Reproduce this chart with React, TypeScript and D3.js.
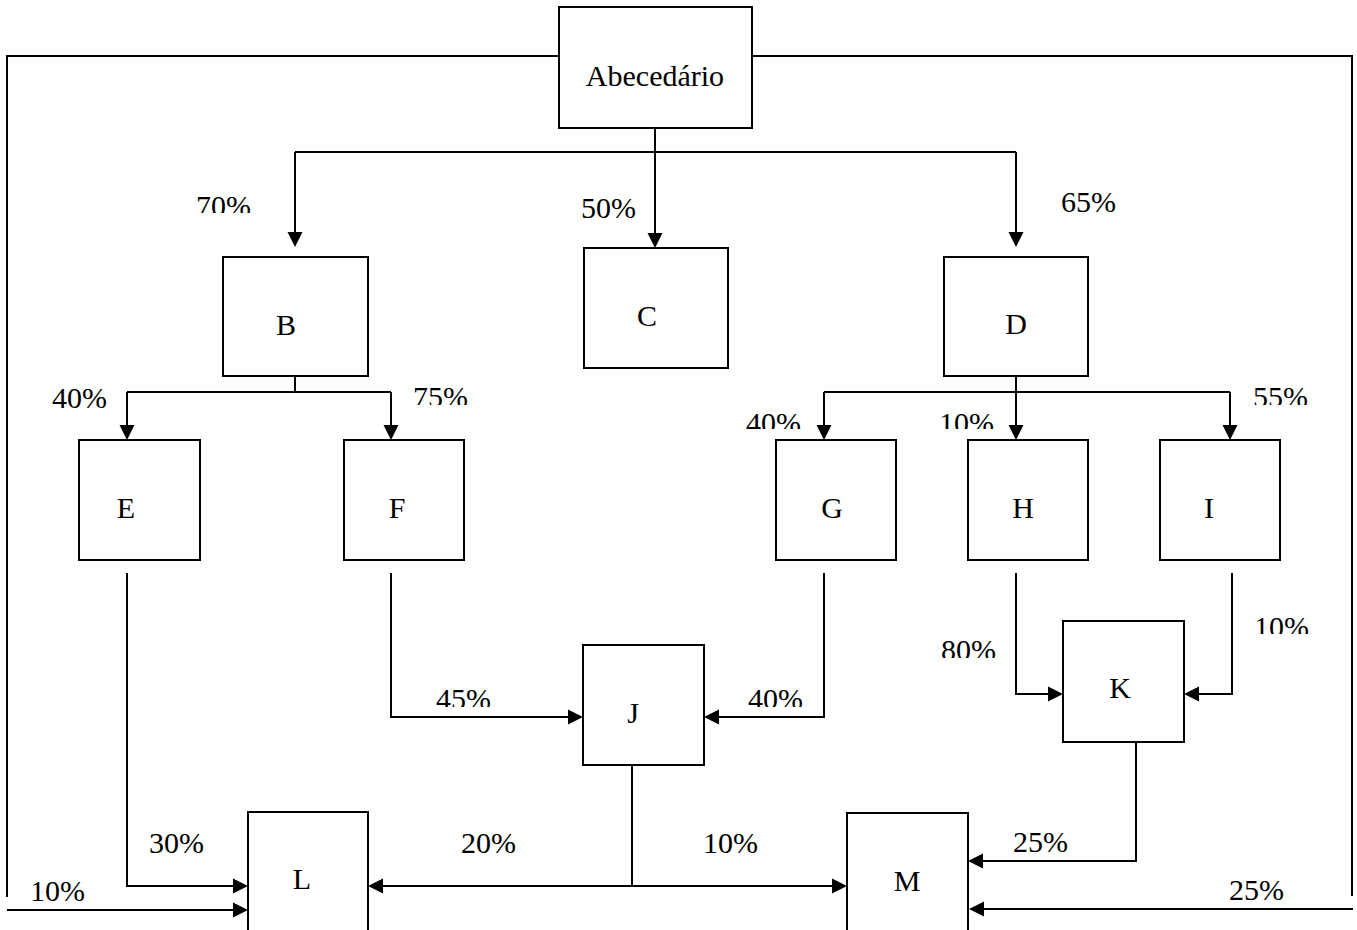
import * as d3 from 'd3';

// diagram content
const NODES = ['Abecedário', 'B', 'C', 'D', 'E', 'F', 'G', 'H', 'I', 'J', 'K', 'L', 'M'];

// [from, to, percent]
const FLOWS: [string, string, number][] = [
    ['Abecedário', 'B', 70],
    ['Abecedário', 'C', 50],
    ['Abecedário', 'D', 65],
    ['Abecedário', 'L', 10],
    ['Abecedário', 'M', 25],
    ['B', 'E', 40],
    ['B', 'F', 75],
    ['D', 'G', 40],
    ['D', 'H', 10],
    ['D', 'I', 55],
    ['E', 'L', 30],
    ['F', 'J', 45],
    ['G', 'J', 40],
    ['H', 'K', 80],
    ['I', 'K', 10],
    ['J', 'L', 20],
    ['J', 'M', 10],
    ['K', 'M', 25],
];

// layout (pixels) kept apart from the data
type Pt = [number, number];
const BOXES: Record<string, [number, number, number, number]> = {
    Abecedário: [559, 7, 752, 128],
    B: [223, 257, 368, 376],
    C: [584, 248, 728, 368],
    D: [944, 257, 1088, 376],
    E: [79, 440, 200, 560],
    F: [344, 440, 464, 560],
    G: [776, 440, 896, 560],
    H: [968, 440, 1088, 560],
    I: [1160, 440, 1280, 560],
    J: [583, 645, 704, 765],
    K: [1063, 621, 1184, 742],
    L: [248, 812, 368, 960],
    M: [847, 813, 968, 960],
};

const TEXT_POS: Record<string, Pt> = {
    Abecedário: [655, 86],
    B: [286, 335],
    C: [647, 326],
    D: [1016, 334],
    E: [126, 518],
    F: [397, 518],
    G: [832, 518],
    H: [1023, 518],
    I: [1209, 518],
    J: [633, 723],
    K: [1120, 698],
    L: [302, 889],
    M: [907, 891],
};

// shared trunks (no arrow)
const TRUNKS: Pt[][] = [
    [[655, 128], [655, 152]],
    [[295, 152], [1016, 152]],
    [[295, 367], [295, 392]],
    [[127, 392], [391, 392]],
    [[824, 392], [1230, 392]],
    [[632, 765], [632, 886]],
    [[559, 56], [7, 56], [7, 897]],
    [[752, 56], [1352, 56], [1352, 896]],
];

// arrowed route per flow, label start x, baseline, optional clip bottom
const ROUTES: Record<string, { pts: Pt[]; label: Pt; clip?: number }> = {
    'Abecedário-B': { pts: [[295, 152], [295, 247]], label: [196, 216], clip: 213 },
    'Abecedário-C': { pts: [[655, 152], [655, 248]], label: [581, 218] },
    'Abecedário-D': { pts: [[1016, 152], [1016, 247]], label: [1061, 212] },
    'Abecedário-L': { pts: [[7, 910], [248, 910]], label: [30, 901] },
    'Abecedário-M': { pts: [[1353, 909], [969, 909]], label: [1229, 900] },
    'B-E': { pts: [[127, 392], [127, 440]], label: [52, 408] },
    'B-F': { pts: [[391, 392], [391, 440]], label: [413, 407], clip: 405 },
    'D-G': { pts: [[824, 392], [824, 440]], label: [746, 433], clip: 429 },
    'D-H': { pts: [[1016, 367], [1016, 440]], label: [939, 433], clip: 429 },
    'D-I': { pts: [[1230, 392], [1230, 440]], label: [1253, 407], clip: 405 },
    'E-L': { pts: [[127, 573], [127, 886], [248, 886]], label: [149, 853] },
    'F-J': { pts: [[391, 573], [391, 717], [583, 717]], label: [436, 709], clip: 707 },
    'G-J': { pts: [[824, 573], [824, 717], [704, 717]], label: [748, 709], clip: 707 },
    'H-K': { pts: [[1016, 573], [1016, 694], [1063, 694]], label: [941, 660], clip: 658 },
    'I-K': { pts: [[1232, 573], [1232, 694], [1184, 694]], label: [1254, 637], clip: 634 },
    'J-L': { pts: [[632, 886], [368, 886]], label: [461, 853] },
    'J-M': { pts: [[632, 886], [847, 886]], label: [703, 853] },
    'K-M': { pts: [[1136, 742], [1136, 861], [968, 861]], label: [1013, 852] },
};

const W = 1357;
const H = 930;
const FONT = "'Liberation Serif', 'Times New Roman', serif";
const ARROW_LEN = 15;
const ARROW_HALF = 7.5;

const line = d3.line<Pt>().x((d) => d[0]).y((d) => d[1]);

function arrowHead(pts: Pt[]): string {
    const [x1, y1] = pts[pts.length - 2];
    const [x2, y2] = pts[pts.length - 1];
    const a = Math.atan2(y2 - y1, x2 - x1);
    const bx = x2 - ARROW_LEN * Math.cos(a);
    const by = y2 - ARROW_LEN * Math.sin(a);
    const nx = -Math.sin(a) * ARROW_HALF;
    const ny = Math.cos(a) * ARROW_HALF;
    return `M${x2},${y2}L${bx + nx},${by + ny}L${bx - nx},${by - ny}Z`;
}

function shortened(pts: Pt[]): Pt[] {
    const out = pts.map((p) => [...p] as Pt);
    const n = out.length;
    const [x1, y1] = out[n - 2];
    const [x2, y2] = out[n - 1];
    const a = Math.atan2(y2 - y1, x2 - x1);
    out[n - 1] = [x2 - (ARROW_LEN - 2) * Math.cos(a), y2 - (ARROW_LEN - 2) * Math.sin(a)];
    return out;
}

export default function App() {
    return (
        <svg
            width={W}
            height={H}
            viewBox={`0 0 ${W} ${H}`}
            style={{ position: 'absolute', left: 0, top: 0, background: '#fff' }}
        >
            <defs>
                {FLOWS.map(([f, t]) => {
                    const r = ROUTES[`${f}-${t}`];
                    return r.clip ? (
                        <clipPath id={`clip-${f}-${t}`} key={`${f}-${t}`}>
                            <rect x={0} y={0} width={W} height={r.clip} />
                        </clipPath>
                    ) : null;
                })}
            </defs>

            <g fill="none" stroke="#000" strokeWidth={2}>
                {TRUNKS.map((pts, i) => (
                    <path key={i} d={line(pts) || ''} />
                ))}
                {FLOWS.map(([f, t]) => {
                    const r = ROUTES[`${f}-${t}`];
                    return <path key={`${f}-${t}`} d={line(shortened(r.pts)) || ''} />;
                })}
            </g>

            <g fill="#000">
                {FLOWS.map(([f, t]) => (
                    <path key={`${f}-${t}`} d={arrowHead(ROUTES[`${f}-${t}`].pts)} />
                ))}
            </g>

            <g fill="#fff" stroke="#000" strokeWidth={2}>
                {NODES.map((n) => {
                    const [x0, y0, x1, y1] = BOXES[n];
                    return <rect key={n} x={x0} y={y0} width={x1 - x0} height={y1 - y0} />;
                })}
            </g>

            <g fontFamily={FONT} fontSize={30} fill="#000">
                {NODES.map((n) => (
                    <text key={n} x={TEXT_POS[n][0]} y={TEXT_POS[n][1]} textAnchor="middle">
                        {n}
                    </text>
                ))}
                {FLOWS.map(([f, t, pct]) => {
                    const r = ROUTES[`${f}-${t}`];
                    return (
                        <text
                            key={`${f}-${t}`}
                            x={r.label[0]}
                            y={r.label[1]}
                            clipPath={r.clip ? `url(#clip-${f}-${t})` : undefined}
                        >
                            {`${pct}%`}
                        </text>
                    );
                })}
            </g>
        </svg>
    );
}
